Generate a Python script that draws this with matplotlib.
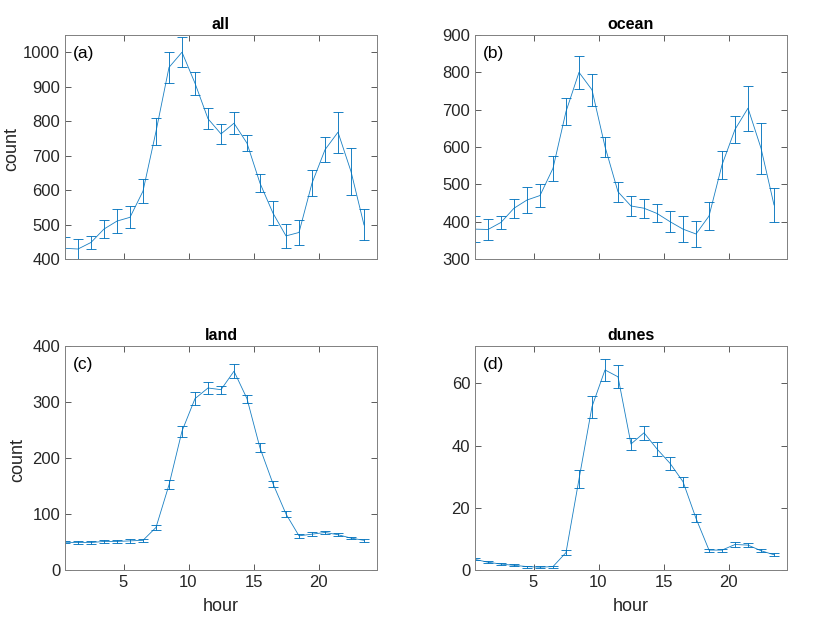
import numpy as np
from matplotlib import pyplot as plt

plt.rcParams['font.family'] = ['Liberation Sans', 'DejaVu Sans']

# ore (centro di ogni intervallo orario)
hour = np.arange(24) + 0.5

#----------------dati----------------
all_y = [431, 429, 448, 487, 510, 521, 597, 770, 956, 1000, 910, 807,
         763, 794, 736, 620, 533, 467, 477, 620, 717, 768, 654, 499]
all_err = [34, 29, 18, 26, 35, 32, 34, 38, 44, 43, 33, 30,
           28, 32, 24, 27, 34, 35, 36, 37, 36, 60, 68, 45]

ocean_y = [380, 379, 398, 436, 458, 470, 543, 695, 800, 753, 601, 480,
           442, 436, 422, 400, 380, 367, 415, 552, 647, 704, 597, 445]
ocean_err = [35, 27, 18, 26, 35, 32, 33, 37, 45, 42, 27, 27,
             27, 25, 24, 28, 35, 35, 37, 37, 37, 60, 68, 45]

land_y = [49.6, 49, 49, 51, 51, 52, 53, 76, 152, 248, 306, 325,
          322, 355, 306, 218, 154, 100, 61, 64, 67, 63, 57, 53]
land_err = [2, 2, 2, 2.5, 2.5, 3, 3, 5, 8, 10, 11, 10,
            7, 12, 7, 8, 5, 4.5, 3, 3, 3, 2.5, 2.5, 2.5]

dunes_y = [3.4, 2.5, 1.9, 1.5, 1.1, 0.9, 1.1, 5.6, 29.2, 52.5, 64.3, 62.1,
           40.5, 44.1, 38.9, 34.3, 28.4, 16.6, 6.4, 6.4, 8.2, 8.0, 6.2, 4.9]
dunes_err = [0.3, 0.3, 0.3, 0.3, 0.3, 0.3, 0.3, 0.8, 2.8, 3.5, 3.6, 3.7,
             1.9, 2.3, 2.1, 2.0, 1.6, 1.3, 0.5, 0.5, 0.7, 0.7, 0.4, 0.5]

titles = ['all', 'ocean', 'land', 'dunes']
labels = ['(a)', '(b)', '(c)', '(d)']
dati = [(all_y, all_err), (ocean_y, ocean_err), (land_y, land_err), (dunes_y, dunes_err)]
ylims = [(400, 1050), (300, 900), (0, 400), (0, 72)]
yticks = [np.arange(400, 1001, 100), np.arange(300, 901, 100),
          np.arange(0, 401, 100), np.arange(0, 61, 20)]

W, H = 827, 621
# posizioni in pixel (sinistra, destra, alto, basso)
boxes = [(65, 377, 35, 259), (475, 787, 35, 259),
         (65, 377, 346, 570), (475, 787, 346, 570)]
# posizione dell'etichetta "count" (frazione degli assi)
ylab_x = {0: -0.142, 2: -0.125}

blu = '#0072BD'
fig = plt.figure(figsize=(W/100, H/100), dpi=100)

for i in range(4):
    l, r, t, b = boxes[i]
    ax = fig.add_axes([l/W, 1 - b/H, (r-l)/W, (b-t)/H])
    y, e = dati[i]
    ax.errorbar(hour, y, yerr=e, color=blu, lw=0.6, elinewidth=0.7,
                capsize=3.5, capthick=0.7, alpha=0.9)
    ax.set_xlim(0.5, 24.5)
    ax.set_ylim(*ylims[i])
    ax.set_xticks([5, 10, 15, 20])
    ax.set_yticks(yticks[i])
    ax.set_title(titles[i], fontsize=11.5, fontweight='bold', color='black', pad=4)
    ax.text(0.025, 0.95, labels[i], transform=ax.transAxes, ha='left', va='top',
            fontsize=12.5, color='black')
    ax.tick_params(direction='in', top=True, right=True, length=4, width=0.6,
                   colors='#404040', labelsize=12, labelcolor='#262626')
    for s in ax.spines.values():
        s.set_color('#808080')
        s.set_linewidth(0.7)
    if i < 2:
        ax.set_xticklabels([])
    else:
        ax.set_xlabel('hour', fontsize=13, color='#262626', labelpad=6)
    if i % 2 == 0:
        ax.set_ylabel('count', fontsize=13, color='#262626')
        ax.yaxis.set_label_coords(ylab_x[i], 0.49)

plt.savefig('out.png', dpi=100)
